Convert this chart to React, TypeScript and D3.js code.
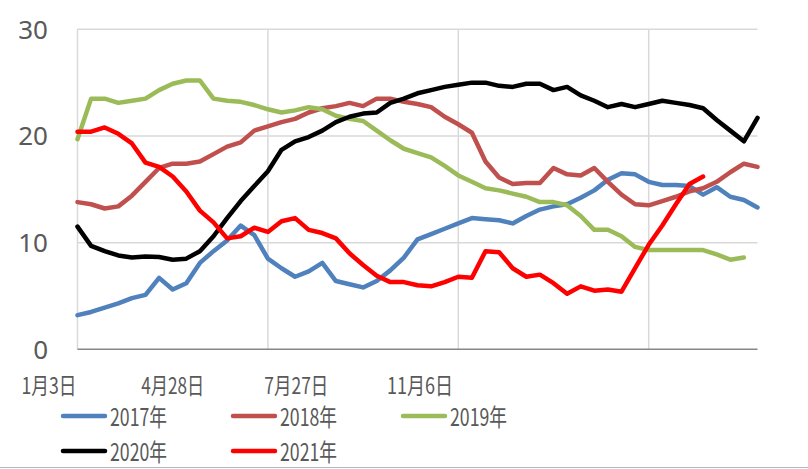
import React from "react";
import * as d3 from "d3";

const N = 51;
const tickIndex = [0, 14, 28, 42];
const tickLabels = ["1月3日", "4月28日", "7月27日", "11月6日"];
const tickLabelWidths = [55, 63, 64, 66];
const yTicks = [0, 10, 20, 30];

const s2017 = [3.2, 3.5, 3.9, 4.3, 4.8, 5.1, 6.7, 5.6, 6.2, 8.1, 9.2, 10.2, 11.6, 10.7, 8.5, 7.6, 6.8, 7.3, 8.1, 6.4, 6.1, 5.8, 6.4, 7.4, 8.6, 10.3, 10.8, 11.3, 11.8, 12.3, 12.2, 12.1, 11.8, 12.5, 13.1, 13.4, 13.6, 14.2, 14.9, 15.9, 16.5, 16.4, 15.7, 15.4, 15.4, 15.3, 14.5, 15.2, 14.3, 14.0, 13.3];
const s2018 = [13.8, 13.6, 13.2, 13.4, 14.4, 15.7, 17.0, 17.4, 17.4, 17.6, 18.3, 19.0, 19.4, 20.5, 20.9, 21.3, 21.6, 22.2, 22.6, 22.8, 23.1, 22.8, 23.5, 23.5, 23.2, 23.0, 22.7, 21.8, 21.1, 20.3, 17.6, 16.1, 15.5, 15.6, 15.6, 17.0, 16.4, 16.3, 17.0, 15.7, 14.5, 13.6, 13.5, 13.9, 14.3, 14.8, 15.1, 15.7, 16.6, 17.4, 17.1];
const s2019 = [19.7, 23.5, 23.5, 23.1, 23.3, 23.5, 24.3, 24.9, 25.2, 25.2, 23.5, 23.3, 23.2, 22.9, 22.5, 22.2, 22.4, 22.7, 22.5, 21.9, 21.6, 21.4, 20.5, 19.6, 18.8, 18.4, 18.0, 17.2, 16.3, 15.7, 15.1, 14.9, 14.6, 14.3, 13.8, 13.8, 13.5, 12.5, 11.2, 11.2, 10.6, 9.6, 9.3, 9.3, 9.3, 9.3, 9.3, 8.9, 8.4, 8.6];
const s2020 = [11.5, 9.7, 9.2, 8.8, 8.6, 8.7, 8.65, 8.4, 8.5, 9.2, 10.6, 12.3, 13.9, 15.3, 16.7, 18.7, 19.5, 19.9, 20.5, 21.3, 21.8, 22.1, 22.2, 23.1, 23.5, 24.0, 24.3, 24.6, 24.8, 25.0, 25.0, 24.7, 24.6, 24.9, 24.9, 24.3, 24.6, 23.8, 23.3, 22.7, 23.0, 22.7, 23.0, 23.3, 23.1, 22.9, 22.6, 21.5, 20.5, 19.5, 21.7];
const s2021 = [20.4, 20.4, 20.8, 20.2, 19.3, 17.5, 17.1, 16.2, 14.8, 13.0, 11.9, 10.4, 10.6, 11.4, 11.0, 12.0, 12.3, 11.2, 10.9, 10.4, 9.0, 7.9, 6.9, 6.3, 6.3, 6.0, 5.9, 6.3, 6.8, 6.7, 9.2, 9.1, 7.6, 6.8, 7.0, 6.2, 5.2, 5.9, 5.5, 5.6, 5.4, 7.6, 9.8, 11.6, 13.6, 15.5, 16.2];

const seriesNames = ["2017年", "2018年", "2019年", "2020年", "2021年"];
const seriesColors = ["#4F81BD", "#C0504D", "#9BBB59", "#000000", "#FF0000"];
const seriesData = [s2017, s2018, s2019, s2020, s2021];

const W = 808;
const H = 469;

export default function App() {
  const x = d3.scaleLinear().domain([0, N - 1]).range([77.5, 757.5]);
  const y = d3.scaleLinear().domain([0, 30]).range([349.3, 29.3]);
  const line = d3
    .line<number>()
    .x((_, i) => x(i))
    .y((d) => y(d));
  const labelX = d3.scaleLinear().domain([0, tickLabels.length - 1]).range([49, 420]);

  const legendCol = d3.scaleLinear().domain([0, 2]).range([63, 403]);
  const legendRow = d3.scaleLinear().domain([0, 1]).range([416, 451]);

  const cjk = "'Noto Sans CJK SC', 'Noto Sans', sans-serif";

  return (
    <svg
      width={W}
      height={H}
      style={{ position: "absolute", left: 0, top: 0, background: "#fff" }}
    >
      <rect x={0} y={0} width={W} height={H} fill="#fff" />
      {yTicks
        .filter((t) => t > 0)
        .map((t) => (
          <line
            key={"h" + t}
            x1={x(0)}
            x2={x(N - 1)}
            y1={y(t)}
            y2={y(t)}
            stroke="#D9D9D9"
            strokeWidth={1.5}
          />
        ))}
      {tickIndex.map((i) => (
        <line
          key={"v" + i}
          x1={x(i)}
          x2={x(i)}
          y1={y(30)}
          y2={y(0)}
          stroke="#D9D9D9"
          strokeWidth={1.5}
        />
      ))}
      <line x1={x(0)} x2={x(N - 1)} y1={y(0)} y2={y(0)} stroke="#868686" strokeWidth={1.5} />
      {yTicks.map((t) => (
        <text
          key={"yl" + t}
          x={48}
          y={y(t) + 9.5}
          textAnchor="end"
          fontFamily="'Noto Sans', sans-serif"
          fontSize={26}
          fill="#595959"
        >
          {t}
        </text>
      ))}
      {tickLabels.map((lab, i) => (
        <text
          key={"xl" + i}
          x={labelX(i) - tickLabelWidths[i] / 2}
          y={394}
          fontFamily={cjk}
          fontSize={23}
          fill="#595959"
          textLength={tickLabelWidths[i]}
          lengthAdjust="spacingAndGlyphs"
        >
          {lab}
        </text>
      ))}
      {seriesData.map((data, si) => (
        <path
          key={"s" + si}
          d={line(data) || ""}
          fill="none"
          stroke={seriesColors[si]}
          strokeWidth={4.5}
          strokeLinejoin="round"
          strokeLinecap="round"
        />
      ))}
      {seriesNames.map((name, i) => {
        const col = i % 3;
        const row = Math.floor(i / 3);
        const lx = legendCol(col);
        const ly = legendRow(row);
        return (
          <g key={"lg" + i}>
            <line
              x1={lx}
              x2={lx + 42}
              y1={ly}
              y2={ly}
              stroke={seriesColors[i]}
              strokeWidth={4.5}
              strokeLinecap="round"
            />
            <text
              x={lx + 47}
              y={ly + 10}
              fontFamily={cjk}
              fontSize={24}
              fill="#595959"
              textLength={57}
              lengthAdjust="spacingAndGlyphs"
            >
              {name}
            </text>
          </g>
        );
      })}
      <line x1={0} x2={W} y1={467.5} y2={467.5} stroke="#B4BBC6" strokeWidth={1} />
    </svg>
  );
}
